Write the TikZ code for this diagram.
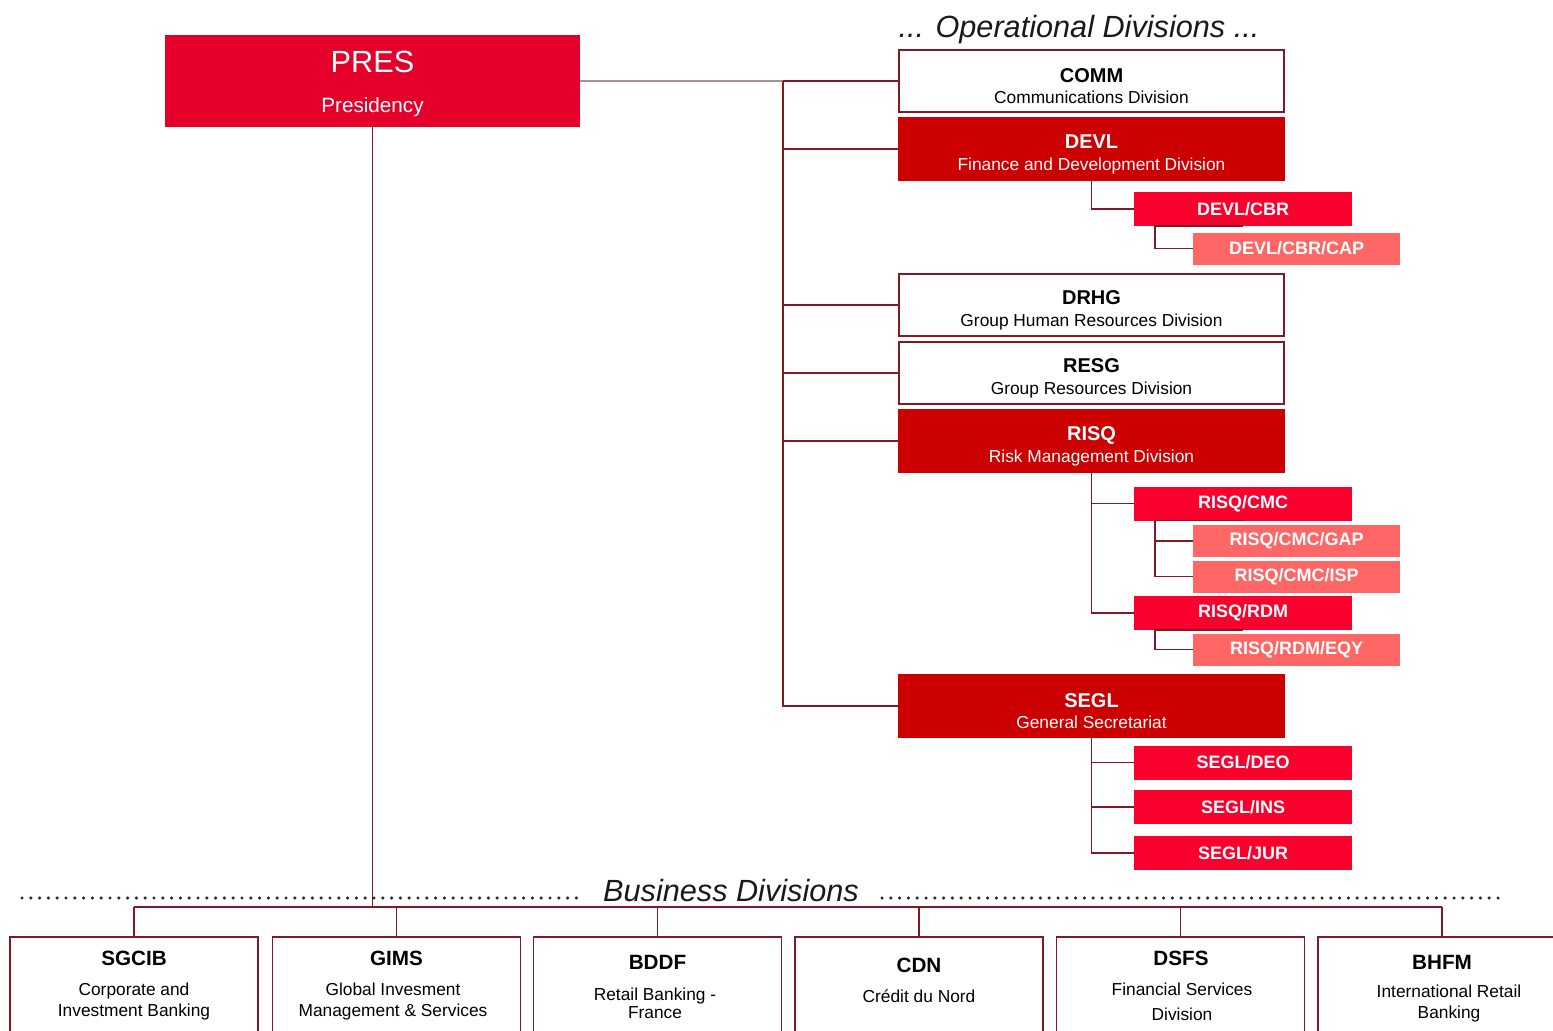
\documentclass[tikz,border=0pt]{standalone}
\usepackage{fontspec}
\setmainfont{Liberation Sans}
\usetikzlibrary{calc}
\definecolor{presC}{RGB}{228,0,43}
\definecolor{darkC}{RGB}{204,0,0}
\definecolor{midC}{RGB}{250,0,45}
\definecolor{lightC}{RGB}{255,102,102}
\definecolor{lineC}{RGB}{130,25,35}
\definecolor{greyC}{RGB}{170,145,145}
\newcommand\presnamefont{\fontsize{23}{26}\selectfont}
\newcommand\presdescfont{\fontsize{15.5}{18}\selectfont}
\newcommand\divnamefont{\fontsize{15}{17}\selectfont\bfseries\rule{0pt}{18.5pt}}
\newcommand\divdescfont{\fontsize{13}{15}\selectfont}
\newcommand\subfont{\fontsize{13.5}{15}\selectfont\bfseries}
\newcommand\bnamefont{\fontsize{15.5}{17}\selectfont\bfseries}
\newcommand\bdescfont{\fontsize{13}{15.75}\selectfont}
\newcommand\titlefont{\fontsize{23}{26}\selectfont\itshape}
\begin{document}
\begin{tikzpicture}[x=0.75pt,y=-0.75pt,
  every node/.style={inner sep=0pt, outer sep=0pt},
  conn/.style={draw=lineC, line width=1.1pt},
  greyconn/.style={draw=greyC, line width=1.1pt},
  divbox/.style={minimum width=288.75pt, minimum height=46.5pt, align=center, line width=1.1pt, font=\divdescfont},
  whitebox/.style={divbox, draw=lineC, fill=white, text=black},
  redbox/.style={divbox, draw=darkC, fill=darkC, text=white},
  subbox/.style={minimum width=163.5pt, minimum height=25.5pt, fill=midC, text=white, font=\subfont},
  subsubbox/.style={minimum width=155.25pt, minimum height=24pt, fill=lightC, text=white, font=\subfont},
  bbox/.style={draw=lineC, line width=1.1pt, minimum width=186pt, minimum height=77.25pt},
  bname/.style={font=\bnamefont, text=black},
  bdesc/.style={font=\bdescfont, align=center, text=black},
  dotline/.style={line width=2.6pt, line cap=round, dash pattern=on 0pt off 6.6pt, draw=black!85},
  titletext/.style={font=\titlefont, text=black!90}
]
\useasboundingbox (0,0) rectangle (1553,1031);
\clip (0,0) rectangle (1553,1031);
\fill[white] (0,0) rectangle (1553,1031);

% titles
\node[titletext] (optitle) at (1079,30) {... Operational Divisions ...};
\node[titletext] (bustitle) at (731,891) {Business Divisions};
\coordinate (dotL1) at (22,898);
\coordinate (dotL2) at (585,898);
\coordinate (dotR1) at (882,898);
\coordinate (dotR2) at (1500,898);
\draw[dotline] (dotL1) -- (dotL2);
\draw[dotline] (dotR1) -- (dotR2);

% presidency
\node[fill=presC, minimum width=311.25pt, minimum height=69pt] (pres) at (372.5,81) {};
\node[text=white, font=\presnamefont] (presname) at (372.5,62) {PRES};
\node[text=white, font=\presdescfont] (presdesc) at (372.5,107) {Presidency};

% operational divisions
\node[whitebox] (comm) at (1091.5,81) {{\divnamefont COMM}\\[1pt]Communications Division};
\node[redbox] (devl) at (1091.5,149) {{\divnamefont DEVL}\\[1pt]Finance and Development Division};
\node[subbox] (cbr) at (1243,209) {DEVL/CBR};
\node[subsubbox] (cap) at (1296.5,248.5) {DEVL/CBR/CAP};
\node[whitebox] (drhg) at (1091.5,305) {{\divnamefont DRHG}\\[1pt]Group Human Resources Division};
\node[whitebox] (resg) at (1091.5,373) {{\divnamefont RESG}\\[1pt]Group Resources Division};
\node[redbox] (risq) at (1091.5,441) {{\divnamefont RISQ}\\[1pt]Risk Management Division};
\node[subbox] (cmc) at (1243,503.5) {RISQ/CMC};
\node[subsubbox] (gap) at (1296.5,541) {RISQ/CMC/GAP};
\node[subsubbox] (isp) at (1296.5,576.5) {RISQ/CMC/ISP};
\node[subbox] (rdm) at (1243,613) {RISQ/RDM};
\node[subsubbox] (eqy) at (1296.5,649.5) {RISQ/RDM/EQY};
\node[redbox] (segl) at (1091.5,706) {{\divnamefont SEGL}\\[1pt]General Secretariat};
\node[subbox] (deo) at (1243,762.5) {SEGL/DEO};
\node[subbox] (ins) at (1243,807) {SEGL/INS};
\node[subbox] (jur) at (1243,853) {SEGL/JUR};

% trunk connectors
\coordinate (trunk) at (783,81);
\coordinate (kx) at (1155,0);
\draw[greyconn] (pres.east) -- (trunk);
\draw[conn] (trunk) -- (comm.west);
\draw[conn] (trunk) -- (trunk |- segl.west) -- (segl.west);
\draw[conn] (trunk |- devl.west) -- (devl.west);
\draw[conn] (trunk |- drhg.west) -- (drhg.west);
\draw[conn] (trunk |- resg.west) -- (resg.west);
\draw[conn] (trunk |- risq.west) -- (risq.west);

\draw[conn] (devl.south) |- (cbr.west);
\draw[conn] (cbr.south) -| (kx |- cap.west) -- (cap.west);
\draw[conn] (risq.south) |- (rdm.west);
\draw[conn] (risq.south |- cmc.west) -- (cmc.west);
\draw[conn] (cmc.south) -| (kx |- isp.west) -- (isp.west);
\draw[conn] (kx |- gap.west) -- (gap.west);
\draw[conn] (rdm.south) -| (kx |- eqy.west) -- (eqy.west);
\draw[conn] (segl.south) |- (jur.west);
\draw[conn] (segl.south |- deo.west) -- (deo.west);
\draw[conn] (segl.south |- ins.west) -- (ins.west);

% business divisions
\coordinate (bus) at (0,907);
\node[bbox] (sgcib) at (134,988.5) {};
\node[bbox] (gims) at (396.5,988.5) {};
\node[bbox] (bddf) at (657.5,988.5) {};
\node[bbox] (cdn) at (919,988.5) {};
\node[bbox] (dsfs) at (1180.5,988.5) {};
\node[bbox] (bhfm) at (1442,988.5) {};

\node[bname] (sgcibname) at (134,958) {SGCIB};
\node[bdesc] (sgcibdesc) at (134,1002) {Corporate and\\Investment Banking};
\node[bname] (gimsname) at (396.5,958) {GIMS};
\node[bdesc] (gimsdesc) at (393,1002) {Global Invesment\\Management \& Services};
\node[bname] (bddfname) at (657.5,962) {BDDF};
\node[bdesc, font=\fontsize{13}{13.5}\selectfont] (bddfdesc) at (655,1003) {Retail Banking -\\France};
\node[bname] (cdnname) at (919,965) {CDN};
\node[bdesc] (cdndesc) at (919,996) {Crédit du Nord};
\node[bname] (dsfsname) at (1181,958) {DSFS};
\node[bdesc, font=\fontsize{13}{18.5}\selectfont] (dsfsdesc) at (1182,1002) {Financial Services\\Division};
\node[bname] (bhfmname) at (1442,962) {BHFM};
\node[bdesc] (bhfmdesc) at (1449,1004) {International Retail\\Banking};

\draw[conn] (pres.south) -- (pres.south |- bus);
\draw[conn] (sgcib.north |- bus) -- (bhfm.north |- bus);
\foreach \b in {sgcib,gims,bddf,cdn,dsfs,bhfm}{
  \draw[conn] (\b.north |- bus) -- (\b.north);
}
\end{tikzpicture}
\end{document}
